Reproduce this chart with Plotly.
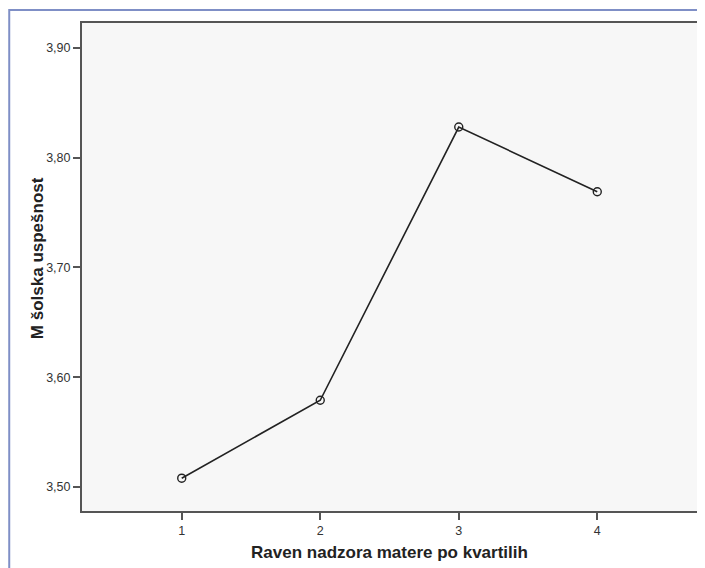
import plotly.graph_objects as go

categories = ["1", "2", "3", "4"]
x_vals = [1, 2, 3, 4]
means = [3.508, 3.579, 3.828, 3.769]
y_ticks = [3.50, 3.60, 3.70, 3.80, 3.90]
y_tick_labels = ["3,50", "3,60", "3,70", "3,80", "3,90"]

# the page body adds an 8px offset, so the figure is sized to the remaining area
W, H = 697, 560
L, R, T, B = 74, 6, 15, 57
pw, ph = W - L - R, H - T - B

fig = go.Figure()
fig.add_trace(go.Scatter(
    x=x_vals, y=means, mode="lines+markers",
    line=dict(color="#222222", width=1.6),
    marker=dict(symbol="circle-open", size=8, color="#222222", line=dict(width=1.4)),
    showlegend=False,
))

fig.update_layout(
    width=W, height=H,
    margin=dict(l=L, r=R, t=T, b=B),
    paper_bgcolor="white",
    plot_bgcolor="#f7f7f7",
    font=dict(family="Arial, Liberation Sans", color="#333333", size=12.5),
    xaxis=dict(
        range=[0.28, 4.72], tickvals=x_vals, ticktext=categories,
        showgrid=False, zeroline=False, showline=True, mirror=True,
        linecolor="#555555", linewidth=2, ticks="outside", ticklen=7,
        tickwidth=2, tickcolor="#555555",
        title=dict(text="<b>Raven nadzora matere po kvartilih</b>",
                   font=dict(size=17, color="#222222"), standoff=9),
    ),
    yaxis=dict(
        range=[3.4781, 3.9228], tickvals=y_ticks, ticktext=y_tick_labels,
        showgrid=False, zeroline=False, showline=True, mirror=True,
        linecolor="#555555", linewidth=2, ticks="outside", ticklen=7,
        tickwidth=2, tickcolor="#555555",
    ),
)

# y-axis title placed as an annotation for exact positioning
fig.add_annotation(
    text="<b>M šolska uspešnost</b>", textangle=-90,
    xref="paper", yref="paper",
    x=(29 - L) / pw, y=1 - (250 - T) / ph,
    xanchor="center", yanchor="middle", showarrow=False,
    font=dict(size=17, color="#222222"),
)

# blue outer frame
x0 = (1 - L) / pw
y1 = 1 + (T - 2) / ph
fig.add_shape(type="rect", xref="paper", yref="paper",
              x0=x0, x1=1 + (R + 20) / pw, y0=-(B + 20) / ph, y1=y1,
              line=dict(color="#7f8fc6", width=2), fillcolor="rgba(0,0,0,0)",
              layer="below")

fig.write_html("out.html")
